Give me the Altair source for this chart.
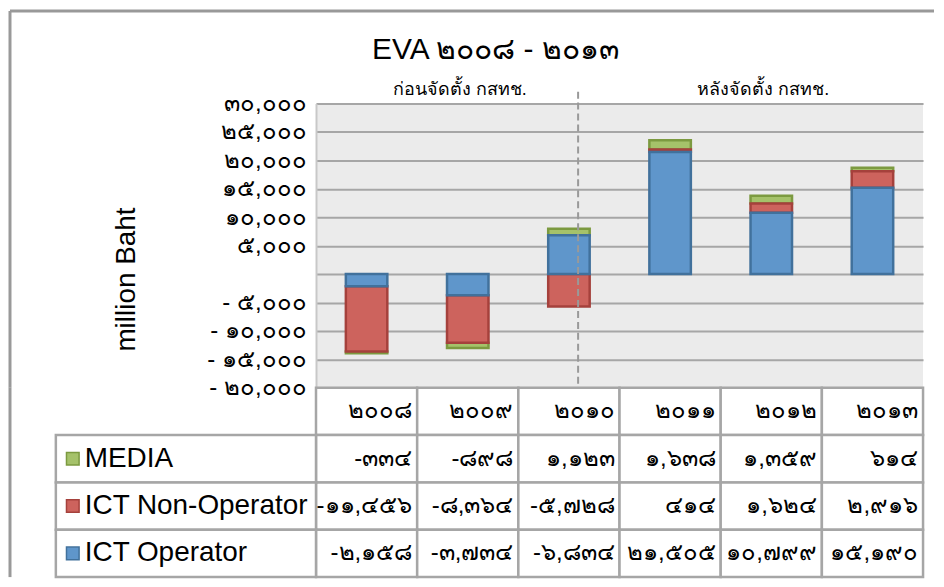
import altair as alt
import pandas as pd

# ---------------- data ----------------
years = ["2008", "2009", "2010", "2011", "2012", "2013"]
year_labels = ["๒๐๐๘", "๒๐๐๙", "๒๐๑๐", "๒๐๑๑", "๒๐๑๒", "๒๐๑๓"]
series = ["MEDIA", "ICT Non-Operator", "ICT Operator"]

# values as drawn in the bars (million Baht)
media = [-334, -898, 1123, 1638, 1359, 614]
ict_non_operator = [-11456, -8364, -5728, 414, 1624, 2916]
ict_operator = [-2158, -3734, 6834, 21505, 10799, 15190]

# values as printed in the data table
media_txt = ["-๓๓๔", "-๘๙๘", "๑,๑๒๓", "๑,๖๓๘", "๑,๓๕๙", "๖๑๔"]
non_op_txt = ["-๑๑,๔๕๖", "-๘,๓๖๔", "-๕,๗๒๘", "๔๑๔", "๑,๖๒๔", "๒,๙๑๖"]
op_txt = ["-๒,๑๕๘", "-๓,๗๓๔", "-๖,๘๓๔", "๒๑,๕๐๕", "๑๐,๗๙๙", "๑๕,๑๙๐"]

tick_values = [-20000, -15000, -10000, -5000, 0, 5000, 10000, 15000, 20000, 25000, 30000]
tick_labels = ["- ๒๐,๐๐๐", "- ๑๕,๐๐๐", "- ๑๐,๐๐๐", "- ๕,๐๐๐", "",
               "๕,๐๐๐", "๑๐,๐๐๐", "๑๕,๐๐๐", "๒๐,๐๐๐", "๒๕,๐๐๐", "๓๐,๐๐๐"]

title_text = "EVA ๒๐๐๘ - ๒๐๑๓"
period_years = ["2009", "2012"]
period_labels = ["ก่อนจัดตั้ง กสทช.", "หลังจัดตั้ง กสทช."]
y_title = "million Baht"

fills = ["#A5C26A", "#CD635D", "#5F96CB"]
strokes = ["#7C9A40", "#A5413C", "#41719C"]
stack_order = {"ICT Operator": 0, "ICT Non-Operator": 1, "MEDIA": 2}

# ---------------- tables ----------------
rows = []
for s, vals in zip(series, [media, ict_non_operator, ict_operator]):
    for y, v in zip(years, vals):
        rows.append({"year": y, "series": s, "value": v, "ord": stack_order[s]})
bars_df = pd.DataFrame(rows)

row_names = ["hdr"] + series
cells = []
for y, lab in zip(years, year_labels):
    cells.append({"year": y, "row": "hdr", "txt": lab})
for s, txts in zip(series, [media_txt, non_op_txt, op_txt]):
    for y, t in zip(years, txts):
        cells.append({"year": y, "row": s, "txt": t})
cells_df = pd.DataFrame(cells)
legend_df = pd.DataFrame({"row": series, "series": series})
period_df = pd.DataFrame({"year": period_years, "label": period_labels})
one = pd.DataFrame({"a": [0]})

label_expr = ""
for v, l in zip(tick_values, tick_labels):
    label_expr += f"datum.value == {v} ? '{l}' : "
label_expr += "''"

FONT = "Liberation Sans"
GRID = "#A6A6A6"
W = 609
H = 285
TH = 190

color_scale = alt.Scale(domain=series, range=fills)
stroke_scale = alt.Scale(domain=series, range=strokes)
x_top = alt.X("year:N", sort=years, axis=None,
              scale=alt.Scale(domain=years, paddingInner=0.59, paddingOuter=0.295))

bars = alt.Chart(bars_df).mark_bar(strokeWidth=2.5).encode(
    x=x_top,
    y=alt.Y("sum(value):Q", stack="zero",
            scale=alt.Scale(domain=[-20000, 30000], nice=False, zero=False),
            axis=alt.Axis(values=tick_values, labelExpr=label_expr, grid=True,
                          gridColor=GRID, gridWidth=2, domain=True, domainColor="#C8C8C8",
                          domainWidth=2, ticks=False, labelFont=FONT, labelFontSize=24,
                          labelColor="#000000", labelPadding=10,
                          title=y_title, titleFont=FONT, titleFontSize=28,
                          titleFontWeight="normal", titleColor="#000000",
                          titleX=-176, titleY=176, titleAngle=270)),
    color=alt.Color("series:N", scale=color_scale, legend=None),
    stroke=alt.Stroke("series:N", scale=stroke_scale, legend=None),
    order=alt.Order("ord:Q"),
)

title_mark = alt.Chart(one).mark_text(font=FONT, fontSize=30, color="#000000").encode(
    x=alt.value(180), y=alt.value(-54), text=alt.value(title_text))

period = alt.Chart(period_df).mark_text(font=FONT, fontSize=18, color="#000000", dx=-8).encode(
    x=alt.X("year:N", sort=years), y=alt.value(-14), text="label:N")

divider = alt.Chart(pd.DataFrame({"year": ["2010"]})).mark_rule(
    color="#999999", strokeWidth=2, strokeDash=[7, 4]).encode(
    x=alt.X("year:N", sort=years), xOffset=alt.value(30), y=alt.value(-12), y2=alt.value(H))

frame_top = alt.Chart(one).mark_rule(color="#999999", strokeWidth=3).encode(
    x=alt.value(-307), x2=alt.value(620), y=alt.value(-93))
frame_left = alt.Chart(one).mark_rule(color="#999999", strokeWidth=3).encode(
    x=alt.value(-307), y=alt.value(-93), y2=alt.value(H))

top = alt.layer(bars, divider, period, title_mark, frame_top, frame_left).properties(
    width=W, height=H, view=alt.ViewBackground(fill="#EBEBEB", stroke=None))

# ---------------- table ----------------
x_tab = alt.X("year:N", sort=years, axis=None,
              scale=alt.Scale(domain=years, paddingInner=0, paddingOuter=0))
y_tab = alt.Y("row:N", sort=row_names, axis=None,
              scale=alt.Scale(domain=row_names, paddingInner=0, paddingOuter=0))

cell_rects = alt.Chart(cells_df).mark_rect(fill="#FFFFFF", stroke=GRID, strokeWidth=2.5).encode(
    x=x_tab, y=y_tab)
cell_text = alt.Chart(cells_df).mark_text(font=FONT, fontSize=24, align="right", dx=-5,
                                          color="#000000").encode(
    x=alt.X("year:N", sort=years, bandPosition=1), y=y_tab, text="txt:N")
label_rects = alt.Chart(legend_df).mark_rect(fill="#FFFFFF", stroke=GRID, strokeWidth=2.5).encode(
    x=alt.value(-261), x2=alt.value(0), y=y_tab)
squares = alt.Chart(legend_df).mark_point(shape="square", filled=True, size=160,
                                          strokeWidth=1.5, opacity=1).encode(
    x=alt.value(-244), y=y_tab,
    color=alt.Color("series:N", scale=color_scale, legend=None),
    stroke=alt.Stroke("series:N", scale=stroke_scale, legend=None))
labels = alt.Chart(legend_df).mark_text(font=FONT, fontSize=28, align="left",
                                        color="#000000").encode(
    x=alt.value(-232), y=y_tab, text="series:N")
frame_left2 = alt.Chart(one).mark_rule(color="#999999", strokeWidth=3).encode(
    x=alt.value(-307), y=alt.value(0), y2=alt.value(TH))

table = alt.layer(cell_rects, label_rects, squares, labels, cell_text, frame_left2).properties(
    width=W, height=TH, view=alt.ViewBackground(fill=None, stroke=None))

chart = alt.vconcat(top, table, spacing=0, bounds="flush").properties(padding=0)

chart.save("out.html", embed_options={"renderer": "svg", "actions": False})
